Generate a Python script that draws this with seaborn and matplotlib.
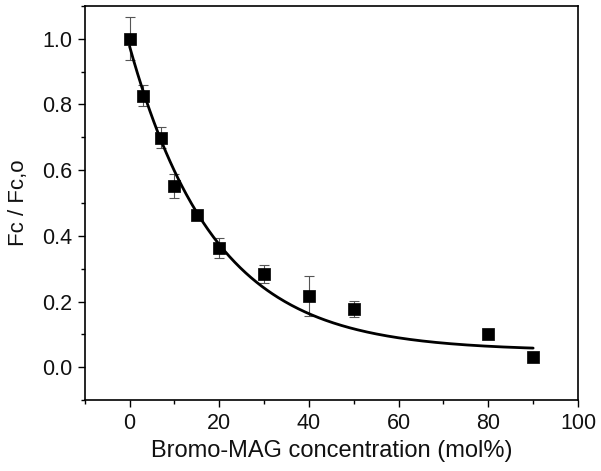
import numpy as np
import pandas as pd
import matplotlib
matplotlib.use("Agg")
import matplotlib.pyplot as plt
import seaborn as sns
from matplotlib.ticker import MultipleLocator

# Data
conc = [0, 3, 7, 10, 15, 20, 30, 40, 50, 80, 90]
ratio = [1.00, 0.827, 0.699, 0.551, 0.463, 0.363, 0.283, 0.217, 0.177, 0.100, 0.030]
err = [0.065, 0.031, 0.031, 0.036, 0.010, 0.031, 0.027, 0.062, 0.024, 0.0, 0.0]

# Exponential decay fit parameters (y0 + A*exp(-x/t)) estimated from the curve
fit_y0 = 0.05
fit_A = 0.927
fit_t = 19.0
fit_xmax = 90

xticks = [0, 20, 40, 60, 80, 100]
yticks = [0.0, 0.2, 0.4, 0.6, 0.8, 1.0]

sns.set_theme(style="ticks")
plt.rcParams['font.family'] = ['Liberation Sans', 'DejaVu Sans']

fig = plt.figure(figsize=(6.01, 4.71), dpi=100)
ax = fig.add_axes([0.141, 0.1507, 0.8207, 0.8366])

df = pd.DataFrame({"x": conc, "y": ratio, "e": err})
xf = np.linspace(0, fit_xmax, 300)
fit_df = pd.DataFrame({"x": xf, "y": fit_y0 + fit_A * np.exp(-xf / fit_t)})

ax.errorbar(df["x"], df["y"], yerr=df["e"], fmt="none", ecolor="#555555",
            elinewidth=0.8, capsize=3.5, capthick=0.8, zorder=2)
sns.lineplot(data=fit_df, x="x", y="y", color="black", linewidth=2.0, ax=ax, zorder=3)
sns.scatterplot(data=df, x="x", y="y", marker="s", s=80, color="black",
                edgecolor="black", linewidth=0.5, ax=ax, zorder=4)

ax.set_xlim(-10, 100)
ax.set_ylim(-0.1, 1.1)
ax.set_xticks(xticks)
ax.set_yticks(yticks)
ax.set_yticklabels([f"{v:.1f}" for v in yticks])
ax.xaxis.set_minor_locator(MultipleLocator(10))
ax.yaxis.set_minor_locator(MultipleLocator(0.1))
ax.tick_params(axis="both", which="major", direction="out", length=5, width=1.0,
               labelsize=15.5, color="black", labelcolor="#111111", pad=4)
ax.tick_params(axis="both", which="minor", direction="out", length=3, width=1.0, color="black")
ax.tick_params(top=False, right=False, which="both")
for s in ax.spines.values():
    s.set_visible(True)
    s.set_linewidth(1.2)
    s.set_color("black")

ax.set_xlabel("Bromo-MAG concentration (mol%)", fontsize=17, color="#111111", labelpad=5)
ax.set_ylabel("Fc / Fc,o", fontsize=16, color="#111111", labelpad=9)

fig.savefig("out.png", dpi=100)
